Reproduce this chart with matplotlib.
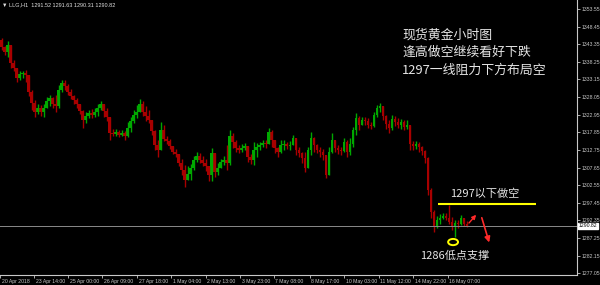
import matplotlib.pyplot as plt
import matplotlib.patches as patches
import matplotlib.transforms as mtransforms
import numpy as np

# Gold H1 chart, candles (about 3 hours per candle)
first_open = 1344.6
closes = [
    1342.5, 1341.1, 1343.1, 1337.9, 1336.5, 1333.6, 1334.7, 1335.0, 1334.4, 1329.5,
    1326.3, 1323.7, 1324.9, 1323.7, 1324.9, 1326.9, 1327.8, 1326.0, 1325.5, 1330.1,
    1332.1, 1331.3, 1329.5, 1328.4, 1327.2, 1326.0, 1324.0, 1321.4, 1322.6, 1323.5,
    1322.9, 1323.7, 1324.9, 1326.0, 1324.0, 1322.3, 1317.7, 1317.4, 1318.0, 1317.1,
    1317.7, 1316.8, 1319.1, 1321.1, 1322.9, 1323.7, 1326.0, 1323.7, 1322.6, 1321.4,
    1318.2, 1314.2, 1312.7, 1318.5, 1315.9, 1315.3, 1313.9, 1312.2, 1311.6, 1309.0,
    1307.0, 1304.1, 1305.8, 1307.5, 1309.8, 1311.0, 1309.8, 1309.0, 1308.0, 1305.5,
    1311.9, 1306.4, 1307.5, 1309.3, 1309.8, 1309.0, 1316.8, 1315.1, 1313.3, 1312.7,
    1313.3, 1313.9, 1310.7, 1309.8, 1312.7, 1313.6, 1314.2, 1314.8, 1314.5, 1318.0,
    1315.6, 1313.3, 1312.2, 1314.2, 1314.5, 1313.9, 1314.2, 1316.2, 1312.7, 1311.9,
    1310.4, 1307.5, 1312.7, 1316.2, 1314.2, 1312.7, 1312.2, 1311.3, 1305.5, 1312.2,
    1315.6, 1313.3, 1312.7, 1312.5, 1315.0, 1312.2, 1314.5, 1318.5, 1322.0, 1320.0,
    1321.4, 1321.1, 1320.0, 1319.7, 1322.9, 1324.9, 1325.5, 1322.6, 1320.3, 1319.1,
    1321.7, 1320.8, 1320.0, 1320.8, 1319.4, 1320.0, 1314.5, 1313.9, 1314.5, 1313.6,
    1312.5, 1310.4, 1301.2, 1294.8, 1290.8, 1292.5, 1293.1, 1293.6, 1293.1, 1291.9,
    1290.4, 1291.6, 1291.3, 1293.1, 1291.3, 1290.82,
]
highs = [
    1345.2, 1342.8, 1344.3, 1343.1, 1338.8, 1336.5, 1335.6, 1335.6, 1335.9, 1334.4,
    1330.1, 1327.2, 1326.0, 1325.8, 1326.0, 1328.1, 1328.7, 1328.1, 1328.7, 1331.5,
    1333.0, 1333.0, 1331.8, 1330.4, 1328.7, 1327.8, 1326.0, 1324.3, 1323.7, 1324.3,
    1324.6, 1324.9, 1326.0, 1326.9, 1326.0, 1324.9, 1322.3, 1318.8, 1318.8, 1318.5,
    1318.5, 1318.2, 1320.8, 1322.3, 1324.3, 1325.8, 1327.5, 1326.9, 1325.5, 1324.3,
    1321.4, 1318.5, 1315.6, 1320.8, 1320.0, 1316.7, 1315.9, 1313.9, 1313.0, 1311.6,
    1310.1, 1308.4, 1308.0, 1308.7, 1311.0, 1312.2, 1311.9, 1311.0, 1310.1, 1308.2,
    1313.3, 1309.8, 1309.0, 1310.1, 1311.0, 1314.2, 1318.5, 1317.7, 1315.6, 1314.2,
    1314.5, 1314.8, 1313.3, 1311.6, 1315.0, 1314.8, 1315.0, 1315.6, 1315.6, 1319.1,
    1318.5, 1315.0, 1313.6, 1315.6, 1315.6, 1315.0, 1315.3, 1317.1, 1315.6, 1313.6,
    1312.2, 1312.2, 1313.6, 1317.9, 1316.5, 1314.5, 1313.6, 1313.0, 1310.4, 1313.6,
    1317.7, 1314.8, 1314.2, 1313.6, 1316.2, 1315.6, 1316.2, 1319.4, 1323.5, 1322.6,
    1322.3, 1322.3, 1322.0, 1320.8, 1323.7, 1325.8, 1326.3, 1324.9, 1322.9, 1321.4,
    1322.9, 1322.6, 1322.0, 1321.7, 1321.4, 1321.4, 1320.0, 1315.3, 1315.3, 1315.0,
    1313.9, 1312.7, 1310.7, 1301.7, 1295.4, 1293.6, 1294.2, 1294.5, 1294.5, 1296.8,
    1293.3, 1292.5, 1292.5, 1293.9, 1292.8, 1292.2,
]
lows = [
    1341.7, 1340.2, 1339.7, 1336.5, 1335.6, 1332.4, 1333.0, 1333.6, 1332.4, 1328.4,
    1324.3, 1322.3, 1323.2, 1322.6, 1322.3, 1324.9, 1325.5, 1324.9, 1323.7, 1324.9,
    1329.5, 1330.1, 1328.7, 1327.5, 1326.0, 1324.9, 1323.2, 1319.1, 1320.6, 1322.0,
    1322.0, 1322.3, 1322.6, 1324.3, 1322.3, 1321.1, 1315.6, 1316.8, 1316.8, 1316.5,
    1316.8, 1315.6, 1316.5, 1318.0, 1320.6, 1322.0, 1323.7, 1322.6, 1321.1, 1320.6,
    1317.1, 1312.7, 1310.7, 1313.6, 1315.3, 1314.5, 1313.0, 1311.6, 1310.7, 1308.0,
    1305.5, 1302.0, 1304.3, 1304.1, 1307.0, 1309.3, 1309.0, 1308.0, 1306.7, 1303.8,
    1303.8, 1304.9, 1305.5, 1307.5, 1308.4, 1307.0, 1308.4, 1313.3, 1312.2, 1311.9,
    1312.2, 1312.7, 1309.3, 1308.7, 1308.4, 1310.7, 1312.7, 1313.6, 1313.3, 1315.0,
    1313.6, 1311.9, 1310.7, 1311.9, 1312.7, 1313.0, 1312.7, 1314.2, 1311.3, 1310.7,
    1309.0, 1306.4, 1307.5, 1311.3, 1312.2, 1311.9, 1310.7, 1309.8, 1304.6, 1306.1,
    1311.9, 1312.2, 1311.6, 1311.3, 1312.2, 1310.7, 1311.3, 1313.6, 1317.1, 1318.5,
    1320.3, 1320.0, 1319.1, 1318.8, 1319.4, 1322.3, 1323.7, 1321.4, 1318.8, 1317.7,
    1318.5, 1319.7, 1319.1, 1318.8, 1318.5, 1318.8, 1312.7, 1312.7, 1313.0, 1312.2,
    1311.3, 1309.0, 1299.7, 1293.0, 1289.0, 1290.2, 1291.3, 1292.8, 1292.5, 1291.3,
    1289.6, 1287.6, 1290.2, 1291.0, 1290.7, 1290.4,
]

price_ticks = [1353.55, 1348.45, 1343.35, 1338.25, 1333.15, 1328.05, 1322.95, 1317.85,
               1312.75, 1307.65, 1302.55, 1297.45, 1292.35, 1287.25, 1282.15, 1277.05]
time_labels = ['20 Apr 2018', '23 Apr 14:00', '25 Apr 00:00', '26 Apr 09:00', '27 Apr 18:00',
               '1 May 04:00', '2 May 13:00', '3 May 23:00', '7 May 08:00', '8 May 17:00',
               '10 May 03:00', '11 May 12:00', '14 May 22:00', '16 May 07:00']
time_pos = [-0.5, 10.9, 22.3, 33.6, 45.2, 56.5, 68.1, 79.5, 90.8, 102.8, 114.3, 125.8, 137.3, 148.7]

last_price = 1290.82
resist = 1297.1
support_low = 1286.1
header = '\u25bc LLG,H1  1291.52 1291.63 1290.31 1290.82'
notes = ['现货黄金小时图', '逢高做空继续看好下跌', '1297一线阻力下方布局空']

CJK = ['Noto Sans CJK SC', 'DejaVu Sans']
SMALL = ['Liberation Sans', 'DejaVu Sans']
TICK_FS = 3.7
UP = '#00a800'
DOWN = '#a80000'
AXC = '#c8c8c8'

closes = np.array(closes)
opens = np.concatenate([[first_open], closes[:-1]])
x = np.arange(len(closes))
top = np.maximum(opens, closes)
bot = np.minimum(opens, closes)
hi = np.maximum(highs, top)
lo = np.minimum(lows, bot)
cols = np.where(closes >= opens, UP, DOWN)

fig = plt.figure(figsize=(6, 2.85), dpi=100, facecolor='black')
ax = fig.add_axes([0, 10 / 285, 577 / 600, 275 / 285])
ax.set_facecolor('black')

ax.vlines(x, lo, hi, colors=cols, linewidth=1.0)
ax.bar(x, top - bot + 0.05, bottom=bot, width=0.7, color=cols, linewidth=0)

ax.set_xlim(-0.5, 191.8)
ax.set_ylim(1276.56, 1356.15)

# axes look like MT4
for s in ['top', 'left']:
    ax.spines[s].set_visible(False)
for s in ['right', 'bottom']:
    ax.spines[s].set_color(AXC)
    ax.spines[s].set_linewidth(0.8)
ax.yaxis.tick_right()
ax.set_yticks(price_ticks)
ax.set_yticklabels([f'{v:.2f}' for v in price_ticks], family=SMALL)
ax.tick_params(axis='y', colors=AXC, labelsize=TICK_FS, length=2, width=0.6, pad=1.5)
ax.set_xticks(time_pos)
ax.set_xticklabels(time_labels, ha='left', family=SMALL)
ax.tick_params(axis='x', colors=AXC, labelsize=TICK_FS, length=2, width=0.6, pad=1.2)
off = mtransforms.ScaledTranslation(1.5 / 100, 0, fig.dpi_scale_trans)
for lab in ax.get_xticklabels():
    lab.set_transform(lab.get_transform() + off)

# current price line and box
ax.axhline(last_price, color='#8a8a8a', linewidth=0.7)
ax.annotate(f'{last_price:.2f}', xy=(1.0, last_price), xycoords=('axes fraction', 'data'),
            xytext=(1.5, 0), textcoords='offset points', fontsize=TICK_FS, color='black',
            va='center', ha='left', family=SMALL,
            bbox=dict(boxstyle='square,pad=0.12', fc='white', ec='white'))

# annotations
ax.hlines(resist, 145.5, 178.2, colors='#ffff00', linewidth=1.5)
ax.text(149.5, 1300.0, '1297以下做空', family=CJK, fontsize=8, color='#e6e6e6', va='center')
ax.add_patch(patches.Ellipse((150.5, support_low), 3.3, 1.8, fill=False,
                             edgecolor='#ffff00', linewidth=1.4))
ax.text(139.5, 1282.0, '1286低点支撑', family=CJK, fontsize=8, color='#e6e6e6', va='center')
ax.annotate('', xy=(158.8, 1294.6), xytext=(155.2, 1291.0),
            arrowprops=dict(arrowstyle='-|>', color='#ff2a2a', lw=1.0, mutation_scale=6))
ax.annotate('', xy=(162.8, 1285.2), xytext=(159.8, 1293.9),
            arrowprops=dict(arrowstyle='-|>', color='#ff2a2a', lw=1.2, mutation_scale=8))

for i, t in enumerate(notes):
    fig.text(402 / 600, 1 - (35 + 17.5 * i) / 285, t, family=CJK, fontsize=9.3,
             color='#e6e6e6', va='center', ha='left')

fig.text(0.004, 1 - 5 / 285, header, fontsize=4.0, color='#e0e0e0', va='center', ha='left',
         family=SMALL)

fig.savefig('out.png', dpi=100, facecolor='black')
